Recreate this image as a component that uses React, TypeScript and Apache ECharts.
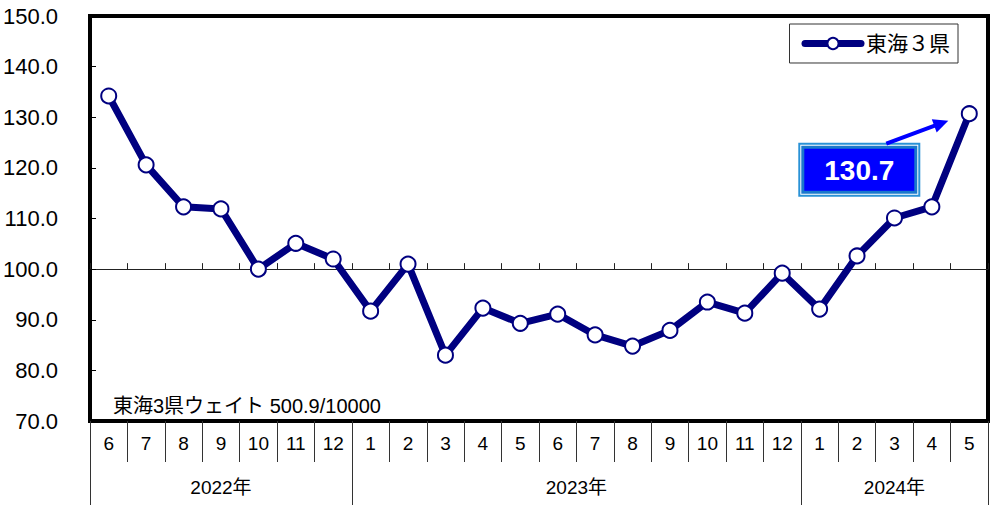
import React, { useEffect, useRef } from 'react';
import * as echarts from 'echarts';

const months = ['6', '7', '8', '9', '10', '11', '12', '1', '2', '3', '4', '5', '6', '7', '8', '9', '10', '11', '12', '1', '2', '3', '4', '5'];
const values = [134.2, 120.6, 112.3, 111.9, 100.0, 105.1, 102.0, 91.7, 101.0, 83.0, 92.3, 89.3, 91.1, 87.0, 84.8, 87.9, 93.5, 91.3, 99.2, 92.1, 102.6, 110.1, 112.3, 130.7];
const years = ['2022年', '2023年', '2024年'];
const yearMonthCounts = [7, 12, 5];
const seriesName = '東海３県';
const weightNote = '東海3県ウェイト 500.9/10000';
const baseLine = 100;

const NUM_FONT = '"Liberation Sans", Arial, sans-serif';
const JP_FONT = '"Liberation Sans", "Noto Sans CJK JP", sans-serif';

export default function App() {
  const ref = useRef<HTMLDivElement>(null);
  useEffect(() => {
    document.body.style.margin = '0';
    const chart = echarts.init(ref.current!, null, { renderer: 'svg' });
    const n = months.length;
    const yearStarts: number[] = [];
    let acc = 0;
    yearMonthCounts.forEach((c) => { yearStarts.push(acc); acc += c; });
    const yearCenters = yearStarts.map((s, i) => s + yearMonthCounts[i] / 2);

    const option: any = {
      animation: false,
      grid: { left: 90, right: 10, top: 16, bottom: 85, show: true, borderWidth: 4, borderColor: '#000', backgroundColor: 'transparent', outerBoundsMode: 'none', containLabel: false },
      legend: {
        data: [seriesName],
        right: 40,
        top: 24,
        backgroundColor: '#fff',
        borderColor: '#333',
        borderWidth: 1,
        padding: [9, 8, 9, 12],
        itemWidth: 56,
        itemHeight: 14,
        itemGap: 4,
        lineStyle: { width: 7, cap: 'round', color: '#000080' },
        itemStyle: { color: '#fff', borderColor: '#000080', borderWidth: 2 },
        textStyle: { fontFamily: JP_FONT, fontSize: 21, color: '#000' },
      },
      xAxis: [
        {
          type: 'category', data: months, boundaryGap: true, position: 'bottom',
          axisLine: { show: false },
          axisTick: { show: true, interval: 0, length: 41, lineStyle: { color: '#333', width: 1 } },
          axisLabel: { interval: 0, margin: 13, fontFamily: NUM_FONT, fontSize: 19, color: '#000' },
          splitLine: { show: false },
        },
        {
          type: 'category', data: months, boundaryGap: true, position: 'bottom',
          axisLine: { show: false },
          axisTick: { show: true, length: 84, interval: (i: number) => yearStarts.indexOf(i) >= 0, lineStyle: { color: '#333', width: 1 } },
          axisLabel: { show: false },
          splitLine: { show: false },
        },
        {
          type: 'value', min: 0, max: n, interval: 0.5, position: 'bottom',
          axisLine: { show: false }, axisTick: { show: false }, splitLine: { show: false },
          axisLabel: {
            margin: 57, fontFamily: JP_FONT, fontSize: 19, color: '#000',
            formatter: (v: number) => { const k = yearCenters.indexOf(v); return k >= 0 ? years[k] : ''; },
          },
        },
        {
          type: 'category', data: months, boundaryGap: true, position: 'bottom', offset: 0,
          axisLine: { show: true, onZero: false, lineStyle: { color: '#222', width: 1 } },
          axisTick: { show: true, inside: true, interval: 0, length: 6, lineStyle: { color: '#222', width: 1 } },
          axisLabel: { show: false },
          splitLine: { show: false },
        },
      ],
      yAxis: {
        type: 'value', min: 70, max: 150, interval: 10,
        axisLine: { show: false },
        axisTick: { show: true, inside: true, length: 6, lineStyle: { color: '#000' } },
        splitLine: { show: false },
        axisLabel: { margin: 32, fontFamily: NUM_FONT, fontSize: 22, color: '#000', formatter: (v: number) => v.toFixed(1) },
      },
      series: [
        {
          name: seriesName,
          type: 'line',
          data: values,
          xAxisIndex: 0,
          color: '#000080',
          lineStyle: { color: '#000080', width: 7 },
          symbol: 'circle',
          symbolSize: 15,
          itemStyle: { color: '#fff', borderColor: '#000080', borderWidth: 2 },
          z: 5,
        },
      ],
    };
    chart.setOption(option);

    const p100 = chart.convertToPixel({ yAxisIndex: 0 }, baseLine) as number;
    const pMin = chart.convertToPixel({ yAxisIndex: 0 }, 70) as number;
    const lastPt = chart.convertToPixel({ seriesIndex: 0 }, [n - 1, values[n - 1]]) as number[];
    const lx = lastPt[0];
    const ly = lastPt[1];

    const bx = lx - 171, by = ly + 29, bw = 122, bh = 54;
    const sx = lx - 83, sy = ly + 30;
    const tx = lx - 21, ty = ly + 7;
    const dx = tx - sx, dy = ty - sy;
    const len = Math.sqrt(dx * dx + dy * dy);
    const ux = dx / len, uy = dy / len;
    const px = -uy, py = ux;
    const hl = 15, hw = 7;

    chart.setOption({
      xAxis: [{}, {}, {}, { offset: p100 - pMin }],
      graphic: [
        {
          type: 'text', x: 113, y: 406, z: 10,
          style: { text: weightNote, fontFamily: JP_FONT, fontSize: 20, fill: '#000', textVerticalAlign: 'middle' },
        },
        { type: 'rect', shape: { x: bx, y: by, width: bw, height: bh }, style: { fill: '#2a92d6' }, z: 10 },
        { type: 'rect', shape: { x: bx + 2, y: by + 2, width: bw - 4, height: bh - 4 }, style: { fill: '#ffffff' }, z: 10 },
        { type: 'rect', shape: { x: bx + 3, y: by + 3, width: bw - 6, height: bh - 6 }, style: { fill: '#1a78cc' }, z: 10 },
        { type: 'rect', shape: { x: bx + 6, y: by + 6, width: bw - 12, height: bh - 12 }, style: { fill: '#0000ff' }, z: 10 },
        {
          type: 'text', x: bx + bw / 2, y: by + bh / 2 + 1, z: 11,
          style: { text: values[n - 1].toFixed(1), fontFamily: NUM_FONT, fontWeight: 'bold', fontSize: 28, fill: '#fff', textAlign: 'center', textVerticalAlign: 'middle' },
        },
        {
          type: 'line', z: 10,
          shape: { x1: sx, y1: sy, x2: tx - ux * (hl - 2), y2: ty - uy * (hl - 2) },
          style: { stroke: '#0000ff', lineWidth: 4 },
        },
        {
          type: 'polygon', z: 10,
          shape: { points: [[tx, ty], [tx - ux * hl + px * hw, ty - uy * hl + py * hw], [tx - ux * hl - px * hw, ty - uy * hl - py * hw]] },
          style: { fill: '#0000ff' },
        },
      ],
    });

    return () => chart.dispose();
  }, []);
  return <div ref={ref} style={{ position: 'absolute', left: 0, top: 0, width: 998, height: 506 }} />;
}
